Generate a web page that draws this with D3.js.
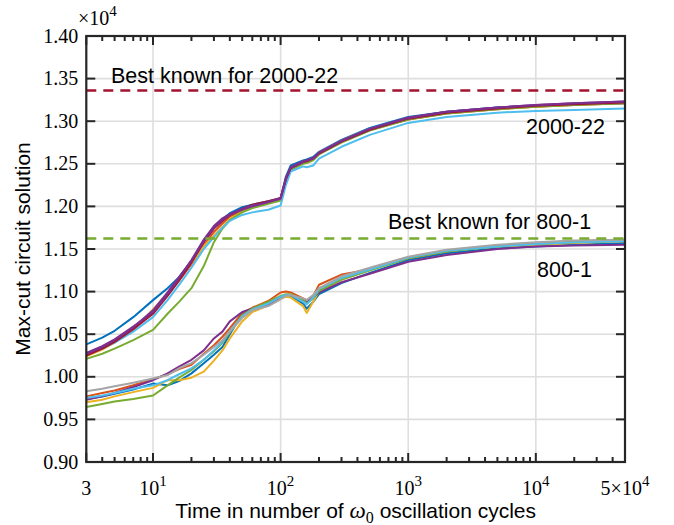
<!DOCTYPE html>
<html lang="en">
<head>
<meta charset="UTF-8">
<title>Max-cut circuit solution</title>
<script src="https://d3js.org/d3.v7.min.js"></script>
<style>
  body { margin: 0; background: #fff; }
  .num { font-family: "Liberation Serif", "DejaVu Serif", serif; font-size: 20px; fill: #000; }
  .sans { font-family: "Liberation Sans", Arial, sans-serif; fill: #000; }
</style>
</head>
<body>
<script>
// sample times (oscillation cycles)
const times = [3, 4, 5, 7, 10, 13, 16, 20, 25, 30, 35, 40, 50, 60, 80, 100, 110, 120, 150, 160, 180, 200, 300, 500, 1000, 2000, 5000, 10000, 20000, 50000];

// 2000-22 runs (x10^4)
const g22Blue    = [1.038,1.046,1.054,1.070,1.090,1.104,1.117,1.136,1.160,1.176,1.185,1.192,1.199,1.202,1.206,1.209,1.235,1.248,1.254,1.255,1.258,1.264,1.278,1.292,1.305,1.311,1.316,1.318,1.320,1.321];
const g22Orange  = [1.026,1.034,1.042,1.056,1.077,1.096,1.113,1.132,1.154,1.170,1.180,1.188,1.195,1.199,1.204,1.208,1.231,1.244,1.251,1.253,1.256,1.262,1.276,1.290,1.302,1.309,1.314,1.317,1.319,1.321];
const g22Yellow  = [1.024,1.032,1.040,1.055,1.079,1.098,1.115,1.133,1.153,1.166,1.176,1.185,1.194,1.199,1.204,1.207,1.230,1.243,1.251,1.252,1.255,1.263,1.277,1.291,1.303,1.310,1.315,1.317,1.320,1.322];
const g22Green   = [1.021,1.027,1.033,1.043,1.055,1.074,1.088,1.104,1.130,1.158,1.174,1.184,1.193,1.198,1.203,1.207,1.230,1.243,1.250,1.251,1.254,1.261,1.275,1.289,1.302,1.309,1.314,1.317,1.319,1.321];
const g22Cyan    = [1.026,1.033,1.040,1.053,1.070,1.090,1.108,1.128,1.150,1.164,1.175,1.183,1.190,1.193,1.196,1.201,1.225,1.241,1.247,1.246,1.248,1.256,1.270,1.284,1.298,1.305,1.310,1.312,1.313,1.315];
const g22Maroon  = [1.025,1.033,1.041,1.056,1.074,1.095,1.113,1.134,1.158,1.174,1.183,1.190,1.197,1.202,1.206,1.210,1.232,1.245,1.252,1.253,1.256,1.262,1.276,1.290,1.303,1.310,1.315,1.318,1.320,1.322];
const g22Purple  = [1.028,1.036,1.044,1.059,1.076,1.097,1.116,1.137,1.161,1.177,1.186,1.191,1.197,1.201,1.205,1.210,1.233,1.246,1.253,1.254,1.257,1.263,1.277,1.291,1.304,1.311,1.316,1.319,1.321,1.323];
const g22Purple2 = [1.027,1.035,1.043,1.058,1.078,1.099,1.117,1.136,1.159,1.175,1.184,1.190,1.196,1.200,1.205,1.209,1.232,1.245,1.252,1.254,1.256,1.263,1.277,1.291,1.304,1.311,1.316,1.319,1.321,1.323];

// 800-1 runs (x10^4)
const g1Blue   = [0.974,0.977,0.980,0.985,0.992,0.990,0.995,1.004,1.016,1.026,1.035,1.050,1.074,1.080,1.086,1.093,1.095,1.095,1.086,1.080,1.088,1.097,1.110,1.122,1.137,1.145,1.151,1.153,1.155,1.157];
const g1Orange = [0.977,0.981,0.984,0.990,0.997,1.003,1.009,1.014,1.027,1.037,1.047,1.057,1.075,1.081,1.089,1.099,1.100,1.099,1.092,1.090,1.095,1.108,1.120,1.126,1.139,1.147,1.154,1.157,1.159,1.161];
const g1Yellow = [0.970,0.973,0.977,0.982,0.987,0.996,0.996,0.999,1.006,1.019,1.031,1.045,1.065,1.076,1.084,1.092,1.094,1.093,1.083,1.075,1.088,1.100,1.114,1.125,1.140,1.148,1.153,1.155,1.157,1.159];
const g1Purple = [0.973,0.977,0.981,0.988,0.996,1.004,1.012,1.020,1.031,1.045,1.053,1.065,1.076,1.080,1.085,1.094,1.096,1.096,1.090,1.088,1.093,1.099,1.111,1.121,1.135,1.143,1.150,1.153,1.154,1.155];
const g1Green  = [0.9645,0.968,0.971,0.974,0.978,0.990,0.999,1.008,1.020,1.030,1.040,1.052,1.072,1.080,1.088,1.095,1.097,1.097,1.090,1.086,1.092,1.101,1.114,1.125,1.139,1.147,1.153,1.156,1.158,1.160];
const g1Cyan   = [0.975,0.978,0.981,0.986,0.990,0.996,1.003,1.010,1.020,1.031,1.041,1.054,1.071,1.079,1.086,1.094,1.096,1.096,1.088,1.085,1.093,1.103,1.116,1.126,1.140,1.148,1.153,1.156,1.158,1.159];
const g1Gray   = [0.983,0.986,0.989,0.993,0.998,1.002,1.010,1.016,1.026,1.035,1.043,1.053,1.069,1.078,1.083,1.091,1.095,1.096,1.092,1.090,1.096,1.104,1.118,1.128,1.141,1.149,1.155,1.158,1.160,1.161];

const g22Runs = [g22Blue, g22Orange, g22Yellow, g22Green, g22Cyan, g22Maroon, g22Purple, g22Purple2];
const g22Colors = ['#0072BD', '#D95319', '#EDB120', '#77AC30', '#4DBEEE', '#A2142F', '#7E2F8E', '#7E2F8E'];
const g1Runs = [g1Blue, g1Orange, g1Yellow, g1Purple, g1Green, g1Cyan, g1Gray];
const g1Colors = ['#0072BD', '#D95319', '#EDB120', '#7E2F8E', '#77AC30', '#4DBEEE', '#A5A5A5'];

// best known cuts (x10^4)
const bestKnown = [
  { label: 'Best known for 2000-22', value: 1.3359, color: '#A2142F' },
  { label: 'Best known for 800-1', value: 1.1624, color: '#77AC30' }
];

const yTicks = [0.90, 0.95, 1.00, 1.05, 1.10, 1.15, 1.20, 1.25, 1.30, 1.35, 1.40];
const xMajor = [3, 10, 100, 1000, 10000, 50000];
const xLabels = [['3', ''], ['10', '1'], ['10', '2'], ['10', '3'], ['10', '4'], ['5\u00d710', '4']];
const xGrid = [10, 100, 1000, 10000];

const width = 674, height = 525;
const mLeft = 86.3, mRight = 625, mTop = 36, mBottom = 462;

const svg = d3.select('body').append('svg')
  .attr('width', width)
  .attr('height', height);

const x = d3.scaleLog().domain([3, 50000]).range([mLeft, mRight]);
const y = d3.scaleLinear().domain([0.90, 1.40]).range([mBottom, mTop]);

// grid
svg.append('g').selectAll('line.gx')
  .data(xGrid).enter().append('line')
  .attr('x1', d => x(d)).attr('x2', d => x(d))
  .attr('y1', mTop).attr('y2', mBottom)
  .attr('stroke', '#dedede').attr('stroke-width', 1.6);
svg.append('g').selectAll('line.gy')
  .data(yTicks).enter().append('line')
  .attr('x1', mLeft).attr('x2', mRight)
  .attr('y1', d => y(d)).attr('y2', d => y(d))
  .attr('stroke', '#dedede').attr('stroke-width', 1.6);

svg.append('clipPath').attr('id', 'clip')
  .append('rect').attr('x', mLeft).attr('y', mTop)
  .attr('width', mRight - mLeft).attr('height', mBottom - mTop);

const plot = svg.append('g').attr('clip-path', 'url(#clip)');

const line = d3.line()
  .x((d, i) => x(times[i]))
  .y(d => y(d));

// runs
g1Runs.forEach((run, i) => {
  plot.append('path')
    .attr('d', line(run))
    .attr('fill', 'none')
    .attr('stroke', g1Colors[i])
    .attr('stroke-width', 2)
    .attr('stroke-linejoin', 'round');
});
g22Runs.forEach((run, i) => {
  plot.append('path')
    .attr('d', line(run))
    .attr('fill', 'none')
    .attr('stroke', g22Colors[i])
    .attr('stroke-width', 2)
    .attr('stroke-linejoin', 'round');
});

// best known dashed lines
plot.selectAll('line.best')
  .data(bestKnown).enter().append('line')
  .attr('x1', mLeft).attr('x2', mRight)
  .attr('y1', d => y(d.value)).attr('y2', d => y(d.value))
  .attr('stroke', d => d.color)
  .attr('stroke-width', 2.5)
  .attr('stroke-dasharray', '10,7');

// annotations
svg.append('text').attr('class', 'sans')
  .attr('x', 111).attr('y', 82.5).attr('font-size', 21.5)
  .text(bestKnown[0].label);
svg.append('text').attr('class', 'sans')
  .attr('x', 526).attr('y', 134).attr('font-size', 21.5)
  .text('2000-22');
svg.append('text').attr('class', 'sans')
  .attr('x', 388).attr('y', 229).attr('font-size', 21.5)
  .text(bestKnown[1].label);
svg.append('text').attr('class', 'sans')
  .attr('x', 537).attr('y', 277).attr('font-size', 21.5)
  .text('800-1');

// axes box and ticks
const axisColor = '#262626';
const ticks = svg.append('g').attr('stroke', axisColor).attr('stroke-width', 2);

yTicks.forEach(v => {
  ticks.append('line').attr('x1', mLeft).attr('x2', mLeft + 9).attr('y1', y(v)).attr('y2', y(v));
  ticks.append('line').attr('x1', mRight).attr('x2', mRight - 9).attr('y1', y(v)).attr('y2', y(v));
});

const xMinor = [];
[1, 10, 100, 1000, 10000].forEach(dec => {
  for (let k = 2; k <= 9; k++) {
    const t = k * dec;
    if (t > 3 && t < 50000 && xMajor.indexOf(t) < 0) xMinor.push(t);
  }
});
xMajor.forEach(t => {
  ticks.append('line').attr('x1', x(t)).attr('x2', x(t)).attr('y1', mBottom).attr('y2', mBottom - 9);
  ticks.append('line').attr('x1', x(t)).attr('x2', x(t)).attr('y1', mTop).attr('y2', mTop + 9);
});
xMinor.forEach(t => {
  ticks.append('line').attr('x1', x(t)).attr('x2', x(t)).attr('y1', mBottom).attr('y2', mBottom - 5);
  ticks.append('line').attr('x1', x(t)).attr('x2', x(t)).attr('y1', mTop).attr('y2', mTop + 5);
});

svg.append('rect')
  .attr('x', mLeft).attr('y', mTop)
  .attr('width', mRight - mLeft).attr('height', mBottom - mTop)
  .attr('fill', 'none').attr('stroke', axisColor).attr('stroke-width', 2.2);

// y tick labels
svg.append('g').selectAll('text')
  .data(yTicks).enter().append('text')
  .attr('class', 'num')
  .attr('x', mLeft - 8).attr('y', d => y(d))
  .attr('dy', '0.33em')
  .attr('text-anchor', 'end')
  .text(d => d.toFixed(2));

// exponent label
const expo = svg.append('text').attr('class', 'num').attr('x', 78).attr('y', 25);
expo.append('tspan').text('\u00d710');
expo.append('tspan').attr('dy', -9).attr('font-size', 15).text('4');

// x tick labels
xMajor.forEach((t, i) => {
  const lab = svg.append('text').attr('class', 'num')
    .attr('x', x(t)).attr('y', 495).attr('text-anchor', 'middle');
  lab.append('tspan').text(xLabels[i][0]);
  if (xLabels[i][1]) lab.append('tspan').attr('dy', -9).attr('font-size', 15).text(xLabels[i][1]);
});

// axis titles
svg.append('text').attr('class', 'sans')
  .attr('font-size', 21)
  .attr('text-anchor', 'middle')
  .attr('transform', `translate(30, ${(mTop + mBottom) / 2}) rotate(-90)`)
  .text('Max-cut circuit solution');

const xt = svg.append('text').attr('class', 'sans')
  .attr('font-size', 21)
  .attr('x', (mLeft + mRight) / 2).attr('y', 518)
  .attr('text-anchor', 'middle');
xt.append('tspan').text('Time in number of ');
xt.append('tspan').attr('font-family', '"Liberation Serif", serif').attr('font-style', 'italic').attr('font-size', 23).text('\u03c9');
xt.append('tspan').attr('font-family', '"Liberation Serif", serif').attr('font-size', 16).attr('dy', 5).text('0');
xt.append('tspan').attr('dy', -5).text(' oscillation cycles');
</script>
</body>
</html>
